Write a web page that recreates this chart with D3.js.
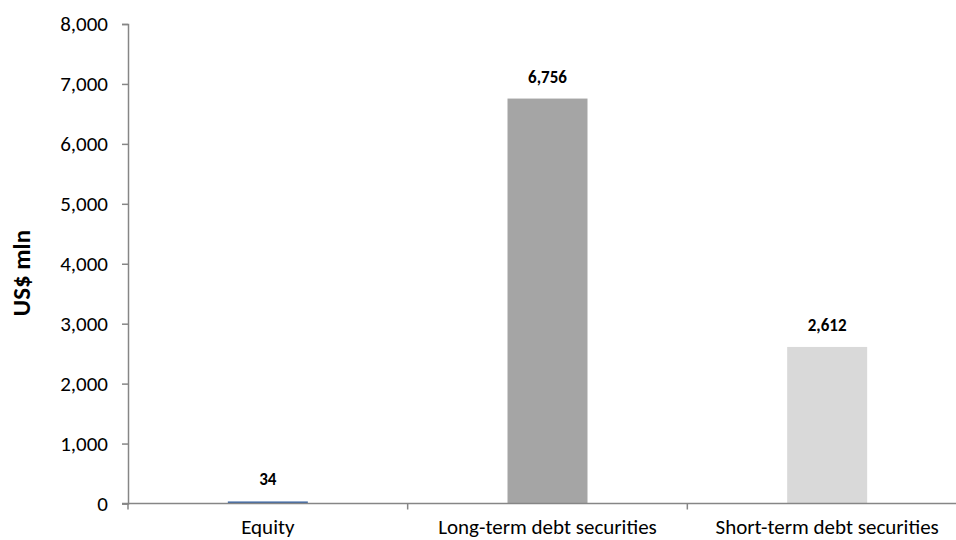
<!DOCTYPE html>
<html><head><meta charset="utf-8">
<script src="https://cdn.jsdelivr.net/npm/d3@7"></script>
<style>
html,body{margin:0;padding:0;background:#fff;}
text{font-family:Carlito, Lato, "Open Sans", sans-serif;}
</style></head>
<body>
<svg id="chart" width="956" height="540"></svg>
<script>
const categories = ["Equity", "Long-term debt securities", "Short-term debt securities"];
const values = [34, 6756, 2612];
const colors = ["#3C67A5", "#A5A5A5", "#D9D9D9"];
const yTicks = [0, 1000, 2000, 3000, 4000, 5000, 6000, 7000, 8000];
const yTitle = "US$ mln";

(function () {
const svg = d3.select("#chart");
const mLeft = 128, mRight = 967, mTop = 24, mBottom = 503.5;

const x = d3.scaleBand().domain(categories).range([mLeft, mRight]).paddingInner(0).paddingOuter(0);
const y = d3.scaleLinear().domain([0, 8000]).range([mBottom, mTop]);
const fmt = d3.format(",");
const barW = 80;

// y axis
const yAxis = svg.append("g").attr("transform", `translate(${mLeft},0)`)
  .call(d3.axisLeft(y).tickValues(yTicks).tickFormat(fmt).tickSize(6).tickPadding(14));
yAxis.select(".domain").attr("stroke", "#868686").attr("stroke-width", 1.5);
yAxis.selectAll(".tick line").attr("stroke", "#868686").attr("stroke-width", 1.5);
yAxis.selectAll(".tick text").attr("font-size", 21).attr("fill", "#000")
  .style("font-family", "Carlito, Lato, sans-serif");

// bars
svg.append("g").selectAll("rect").data(values).join("rect")
  .attr("x", (d, i) => x(categories[i]) + x.bandwidth() / 2 - barW / 2)
  .attr("width", barW)
  .attr("y", d => y(d))
  .attr("height", d => y(0) - y(d))
  .attr("fill", (d, i) => colors[i]);

// x axis
const xg = svg.append("g");
xg.append("line").attr("x1", mLeft - 6).attr("x2", mRight).attr("y1", y(0)).attr("y2", y(0))
  .attr("stroke", "#868686").attr("stroke-width", 1.5);
const bounds = categories.map(c => x(c)).concat([x(categories[categories.length - 1]) + x.bandwidth()]);
xg.selectAll("line.tk").data(bounds).join("line").attr("class", "tk")
  .attr("x1", d => d).attr("x2", d => d).attr("y1", y(0)).attr("y2", y(0) + 6)
  .attr("stroke", "#868686").attr("stroke-width", 1.5);
xg.selectAll("text").data(categories).join("text")
  .attr("x", d => x(d) + x.bandwidth() / 2).attr("y", 534)
  .attr("text-anchor", "middle").attr("font-size", 21).attr("fill", "#000")
  .text(d => d);

// data labels
svg.append("g").selectAll("text").data(values).join("text")
  .attr("x", (d, i) => x(categories[i]) + x.bandwidth() / 2)
  .attr("y", d => y(d) - 16)
  .attr("text-anchor", "middle").attr("font-size", 17).attr("font-weight", "bold").attr("fill", "#000")
  .text(d => fmt(d));

// y title
svg.append("text").attr("transform", "translate(30,273) rotate(-90)")
  .attr("text-anchor", "middle").attr("font-size", 25).attr("font-weight", "bold").attr("fill", "#000")
  .text(yTitle);
})();
</script>
</body></html>
